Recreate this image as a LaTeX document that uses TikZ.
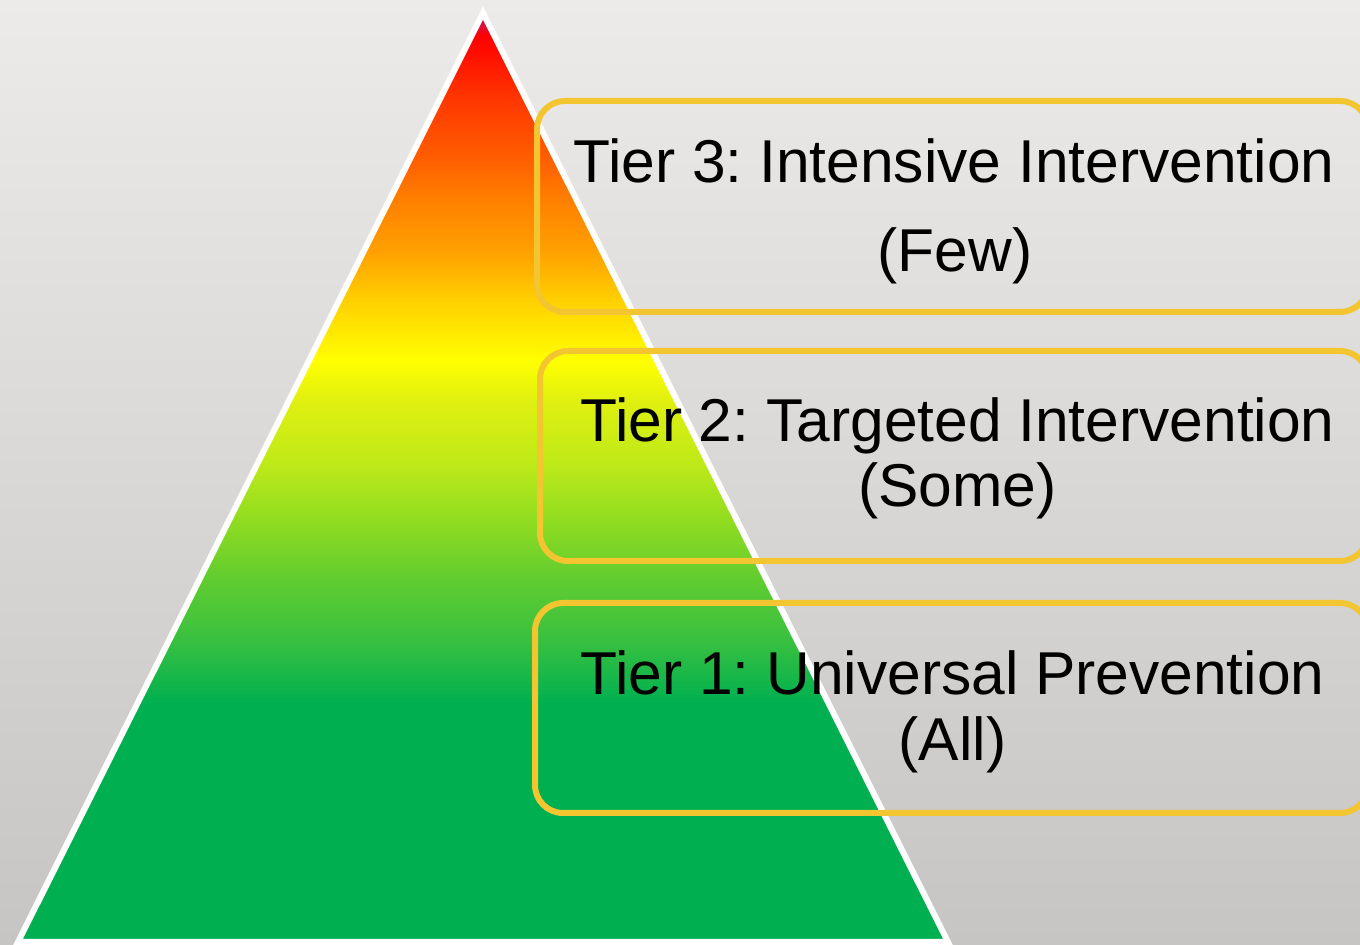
\documentclass[tikz,border=0pt]{standalone}
\usepackage{fontspec}
\setmainfont{Liberation Sans}
\pgfdeclareverticalshading{tiergrad}{100bp}{%
  rgb(0bp)=(0,0.690,0.314);
  rgb(25bp)=(0,0.690,0.314);
  rgb(37.85bp)=(0,0.690,0.314);
  rgb(41.24bp)=(0.22,0.753,0.251);
  rgb(44.46bp)=(0.376,0.8,0.188);
  rgb(47.69bp)=(0.565,0.863,0.125);
  rgb(50.91bp)=(0.753,0.918,0.094);
  rgb(54.14bp)=(0.878,0.941,0.063);
  rgb(56.29bp)=(1,1,0);
  rgb(59.52bp)=(1,0.816,0);
  rgb(62.20bp)=(1,0.627,0);
  rgb(64.89bp)=(1,0.502,0);
  rgb(67.04bp)=(1,0.376,0);
  rgb(70.27bp)=(1,0.22,0);
  rgb(73.76bp)=(1,0,0);
  rgb(74.30bp)=(0.863,0.063,0.235);
  rgb(75bp)=(0.69,0.125,0.353);
  rgb(100bp)=(0.69,0.125,0.353)}
\definecolor{bgtop}{RGB}{236,235,233}
\definecolor{bgbot}{RGB}{199,197,195}
\definecolor{boxgold}{RGB}{243,197,48}
\tikzset{
  tierbox/.style={draw=boxgold, line width=6pt, rounded corners=28pt, inner sep=0pt, fill=none},
  tiertext/.style={anchor=base, inner sep=0pt, font=\fontsize{60.5}{70}\selectfont\frenchspacing, text=black}
}
\begin{document}
\begin{tikzpicture}[x=1pt,y=1pt]
\useasboundingbox (0,0) rectangle (1360,945);
\shade[top color=bgtop, bottom color=bgbot] (0,0) rectangle (1360,945);
% pyramid
\coordinate (apex) at (483,932);
\coordinate (bl) at (18,3);
\coordinate (br) at (948,3);
\shade[shading=tiergrad] (apex) -- (bl) -- (br) -- cycle;
\draw[white, line width=6pt, line join=miter] (apex) -- (bl) -- (br) -- cycle;
% boxes
\node[tierbox, minimum width=831pt, minimum height=211pt] (box3) at (952.5,738.5) {};
\node[tierbox, minimum width=828pt, minimum height=210pt] (box2) at (954,489) {};
\node[tierbox, minimum width=833pt, minimum height=210pt] (box1) at (951.5,237) {};
% texts
\node[tiertext] (t3a) at (954,762) {Tier 3: Intensive Intervention};
\node[tiertext] (t3b) at (955,673) {(Few)};
\node[tiertext] (t2a) at (957.5,503) {Tier 2: Targeted Intervention};
\node[tiertext] (t2b) at (957.5,438) {(Some)};
\node[tiertext] (t1a) at (952.5,250) {Tier 1: Universal Prevention};
\node[tiertext] (t1b) at (952.5,184) {(All)};
\end{tikzpicture}
\end{document}
